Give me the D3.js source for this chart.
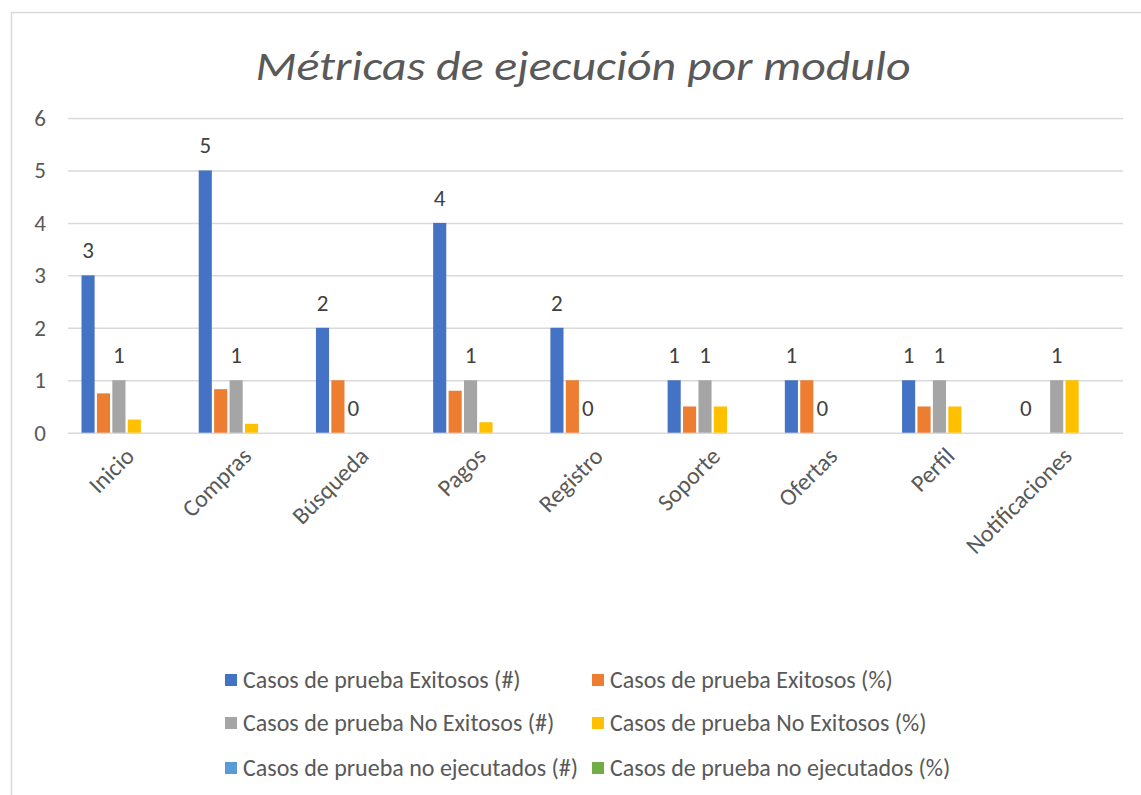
<!DOCTYPE html>
<html>
<head>
<meta charset="utf-8">
<script src="https://cdn.jsdelivr.net/npm/d3@7"></script>
<style>
  html, body { margin: 0; padding: 0; background: #fff; }
  svg { display: block; }
</style>
</head>
<body>
<svg id="chart" width="1141" height="795"></svg>
<script>
const title = "Métricas de ejecución por modulo";
const categories = ["Inicio", "Compras", "Búsqueda", "Pagos", "Registro", "Soporte", "Ofertas", "Perfil", "Notificaciones"];
const seriesNames = [
  "Casos de prueba Exitosos (#)",
  "Casos de prueba Exitosos (%)",
  "Casos de prueba No Exitosos (#)",
  "Casos de prueba No Exitosos (%)",
  "Casos de prueba no ejecutados (#)",
  "Casos de prueba no ejecutados (%)"
];
const exitososN = [3, 5, 2, 4, 2, 1, 1, 1, 0];
const exitososP = [0.75, 0.83, 1, 0.8, 1, 0.5, 1, 0.5, 0];
const noExitososN = [1, 1, 0, 1, 0, 1, 0, 1, 1];
const noExitososP = [0.25, 0.17, 0, 0.2, 0, 0.5, 0, 0.5, 1];
const noEjecN = [0, 0, 0, 0, 0, 0, 0, 0, 0];
const noEjecP = [0, 0, 0, 0, 0, 0, 0, 0, 0];
const yTicks = [0, 1, 2, 3, 4, 5, 6];
const colors = ["#4472C4", "#ED7D31", "#A5A5A5", "#FFC000", "#5B9BD5", "#70AD47"];
const labeledSeries = [0, 2];

const seriesValues = [exitososN, exitososP, noExitososN, noExitososP, noEjecN, noEjecP];

const svg = d3.select("#chart");
const font = "Calibri, Carlito, Lato, 'Open Sans', sans-serif";

// chart border
svg.append("rect").attr("x", 11.5).attr("y", 12.5).attr("width", 1300).attr("height", 900)
  .attr("fill", "#fff").attr("stroke", "#D9D9D9").attr("stroke-width", 1.5);

// title
svg.append("text").attr("x", 583).attr("y", 80).attr("text-anchor", "middle")
  .attr("font-family", font).attr("font-style", "italic").attr("font-weight", 300)
  .attr("font-size", 42).attr("fill", "#595959")
  .attr("textLength", 655).attr("lengthAdjust", "spacingAndGlyphs")
  .text(title);

const plotLeft = 68, plotRight = 1123, plotTop = 118, plotBottom = 432.7;
const x0 = d3.scaleBand().domain(categories).range([plotLeft, plotRight]).padding(0);
const x1 = d3.scaleBand().domain(d3.range(seriesNames.length))
  .range([13.5, x0.bandwidth() - 13.5]).paddingInner(0.15).paddingOuter(0);
const y = d3.scaleLinear().domain([0, 6]).range([plotBottom, plotTop]);

// gridlines
const yAxis = d3.axisLeft(y).tickValues(yTicks).tickSize(-(plotRight - plotLeft)).tickFormat(d3.format("d"));
const gy = svg.append("g").attr("transform", `translate(${plotLeft},0)`).call(yAxis);
gy.select(".domain").remove();
gy.selectAll(".tick line").attr("stroke", "#D9D9D9").attr("stroke-width", 1.5);
gy.selectAll(".tick text").attr("x", -28).attr("font-family", font).attr("font-size", 23)
  .attr("fill", "#595959").attr("text-anchor", "middle");

// bars
const groups = svg.append("g").selectAll("g").data(categories).join("g")
  .attr("transform", d => `translate(${x0(d)},0)`);
groups.selectAll("rect").data((c, i) => seriesValues.map((vals, s) => ({ s, v: vals[i] })))
  .join("rect")
  .attr("x", d => x1(d.s)).attr("width", x1.bandwidth())
  .attr("y", d => y(d.v)).attr("height", d => y(0) - y(d.v))
  .attr("fill", d => colors[d.s]);

// data labels
groups.selectAll("text.lbl").data((c, i) => labeledSeries.map(s => ({ s, v: seriesValues[s][i] })))
  .join("text").attr("class", "lbl")
  .attr("x", d => x1(d.s) + x1.bandwidth() / 2)
  .attr("y", d => y(d.v) - 17)
  .attr("text-anchor", "middle").attr("font-family", font).attr("font-size", 23)
  .attr("fill", "#404040").text(d => d.v);

// x axis labels
const xAxis = d3.axisBottom(x0).tickSize(0);
const gx = svg.append("g").attr("transform", `translate(0,${plotBottom})`).call(xAxis);
gx.select(".domain").remove();
gx.selectAll(".tick text")
  .attr("font-family", font).attr("font-size", 24).attr("fill", "#595959")
  .attr("text-anchor", "end").attr("dy", 0).attr("y", 0)
  .attr("transform", "translate(9,25) rotate(-45)");

// legend
const legendCols = [225, 592];
const legendRows = [680, 723, 768];
const leg = svg.append("g").selectAll("g").data(seriesNames).join("g")
  .attr("transform", (d, i) => `translate(${legendCols[i % 2]},${legendRows[Math.floor(i / 2)]})`);
leg.append("rect").attr("x", 0).attr("y", -6).attr("width", 12).attr("height", 12)
  .attr("fill", (d, i) => colors[i]);
leg.append("text").attr("x", 18).attr("y", 0).attr("dy", "0.35em")
  .attr("font-family", font).attr("font-size", 24).attr("fill", "#595959").text(d => d);
</script>
</body>
</html>
